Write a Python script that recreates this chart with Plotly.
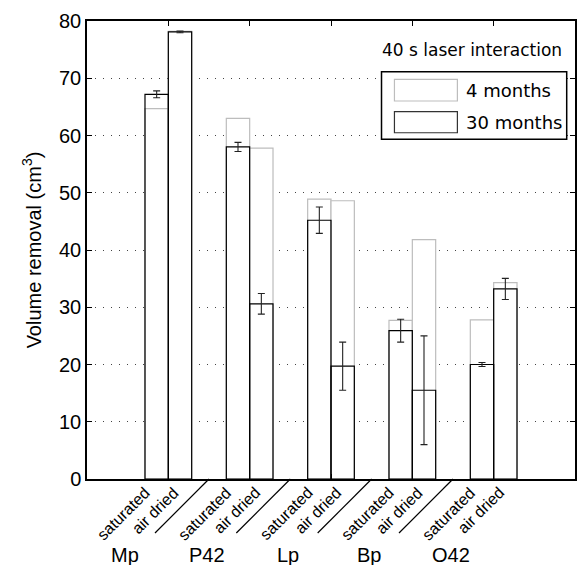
import plotly.graph_objects as go

categories = ["Mp", "P42", "Lp", "Bp", "O42"]
sub_labels = ["saturated", "air dried"]
months4_sat = [64.7, 63.0, 48.9, 27.7, 27.8]
months4_air = [78.2, 57.8, 48.6, 41.8, 34.3]
months30_sat = [67.2, 58.0, 45.2, 25.9, 20.0]
months30_air = [78.1, 30.6, 19.7, 15.5, 33.2]
err30_sat = [0.6, 0.8, 2.3, 2.0, 0.35]
err30_air = [0.15, 1.8, 4.2, 9.5, 1.85]
y_ticks = [0, 10, 20, 30, 40, 50, 60, 70, 80]

ARIAL = "Liberation Sans, Arial, sans-serif"
DEJAVU = "DejaVu Sans, sans-serif"
GREY = "#bdbdbd"

pos = list(range(1, len(categories) + 1))

fig = go.Figure()
# 4 months (grey outline, white fill) drawn first
for vals, grp in [(months4_sat, "sat"), (months4_air, "air")]:
    fig.add_trace(go.Bar(x=pos, y=vals, offsetgroup=grp,
                         marker=dict(color="white", line=dict(color=GREY, width=1.2)),
                         showlegend=False, hoverinfo="skip"))
# 30 months (black outline, transparent fill) with error bars
for vals, errs, grp in [(months30_sat, err30_sat, "sat"), (months30_air, err30_air, "air")]:
    fig.add_trace(go.Bar(x=pos, y=vals, offsetgroup=grp,
                         marker=dict(color="rgba(0,0,0,0)", line=dict(color="black", width=1.2)),
                         error_y=dict(type="data", array=errs, color="#222", thickness=1.1, width=3.5),
                         showlegend=False, hoverinfo="skip"))

annotations = []
shapes = []
n = len(categories)
for i, cat in enumerate(categories):
    p = pos[i]
    annotations.append(dict(x=p - 0.15, y=0, xref="x", yref="paper", text=sub_labels[0],
                            textangle=-45, xanchor="right", yanchor="top", yshift=-2,
                            showarrow=False, font=dict(family=ARIAL, size=16, color="black")))
    annotations.append(dict(x=p + 0.2, y=0, xref="x", yref="paper", text=sub_labels[1],
                            textangle=-45, xanchor="right", yanchor="top", yshift=-2,
                            showarrow=False, font=dict(family=ARIAL, size=16, color="black")))
    annotations.append(dict(x=p - 0.53, y=0, xref="x", yref="paper", text=cat,
                            xanchor="center", yanchor="middle", yshift=-76,
                            showarrow=False, font=dict(family=ARIAL, size=20, color="black")))
    if i < n - 1:
        shapes.append(dict(type="line", xref="x", yref="paper", xsizemode="pixel", ysizemode="pixel",
                           xanchor=p + 0.5, yanchor=0, x0=-54, x1=0, y0=-54, y1=0,
                           line=dict(color="black", width=1.2), layer="above"))

annotations.append(dict(x=-0.114, y=0.5, xref="paper", yref="paper",
                        text="Volume removal (cm<sup>3</sup>)", textangle=-90,
                        xanchor="center", yanchor="middle", showarrow=False,
                        font=dict(family=ARIAL, size=20, color="black")))
annotations.append(dict(x=0.977, y=0.937, xref="paper", yref="paper",
                        text="40 s laser interaction", xanchor="right", yanchor="middle",
                        showarrow=False, font=dict(family=DEJAVU, size=17, color="black")))
shapes.append(dict(type="rect", xref="paper", yref="paper", x0=0.6035, x1=0.983, y0=0.742, y1=0.889,
                   fillcolor="white", line=dict(color="black", width=1.5), layer="above"))
shapes.append(dict(type="rect", xref="paper", yref="paper", x0=0.630, x1=0.759, y0=0.8253, y1=0.8727,
                   fillcolor="white", line=dict(color=GREY, width=1.2), layer="above"))
shapes.append(dict(type="rect", xref="paper", yref="paper", x0=0.630, x1=0.759, y0=0.756, y1=0.802,
                   fillcolor="white", line=dict(color="#333", width=1.2), layer="above"))
annotations.append(dict(x=0.773, y=0.849, xref="paper", yref="paper", text="4 months",
                        xanchor="left", yanchor="middle", showarrow=False,
                        font=dict(family=DEJAVU, size=18, color="black")))
annotations.append(dict(x=0.773, y=0.778, xref="paper", yref="paper", text="30 months",
                        xanchor="left", yanchor="middle", showarrow=False,
                        font=dict(family=DEJAVU, size=18, color="black")))

fig.update_layout(
    width=578, height=565,
    margin=dict(l=87, r=1, t=21, b=86),
    plot_bgcolor="white", paper_bgcolor="white",
    barmode="group", bargap=0.426, bargroupgap=0,
    annotations=annotations, shapes=shapes,
    showlegend=False,
)
fig.update_xaxes(range=[0, 6], tickvals=pos, showgrid=False, zeroline=False,
                 showline=True, linecolor="black", linewidth=1.5, mirror="ticks",
                 ticks="inside", ticklen=5, tickcolor="black", showticklabels=False)
fig.update_yaxes(range=[0, 80], tickvals=y_ticks, showgrid=True, gridcolor="#444",
                 griddash="1px,7px", gridwidth=1, zeroline=False,
                 showline=True, linecolor="black", linewidth=1.5, mirror="ticks",
                 ticks="inside", ticklen=5, tickcolor="black",
                 tickfont=dict(family=ARIAL, size=20, color="black"))

fig.write_html("out.html")
